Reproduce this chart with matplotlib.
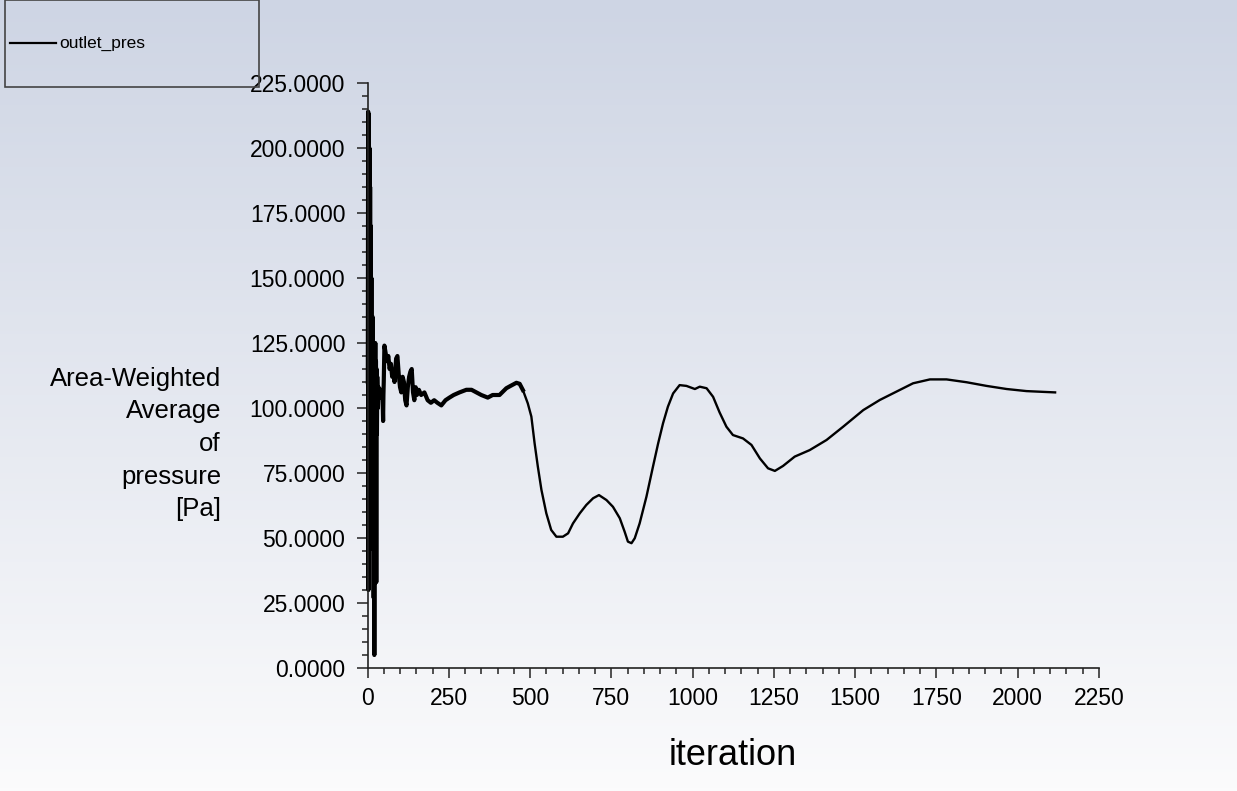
import numpy as np
import matplotlib
matplotlib.use("Agg")
import matplotlib.pyplot as plt
from matplotlib.ticker import MultipleLocator, FormatStrFormatter
from matplotlib.patches import Rectangle
from matplotlib.lines import Line2D

plt.rcParams['font.family'] = ['Liberation Sans', 'DejaVu Sans']

# ---- data ----
series_name = "outlet_pres"
iteration = [1, 2, 3, 4, 5, 6, 7, 8, 9, 10, 11, 12, 13, 14, 15, 16, 17, 18, 19, 20,
             21, 22, 23, 24, 25, 26, 27, 28, 29, 30, 32, 34, 36, 38, 40, 42, 44, 46, 48, 49,
             50, 52, 56, 60, 64, 68, 72, 76, 80, 83, 88, 92, 96, 100, 104, 108, 112, 116, 120, 124,
             128, 132, 136, 140, 144, 148, 152, 158, 165, 175, 185, 195, 205, 215, 227, 240, 252, 265, 283, 304,
             320, 335, 350, 370, 385, 406, 427, 440, 458, 468, 478, 493, 504, 514, 524, 535, 550, 565, 581, 601,
             617, 632, 653, 673, 694, 712, 735, 755, 776, 791, 801, 812, 822, 837, 858, 878, 894, 909, 924, 940,
             960, 981, 1007, 1022, 1043, 1063, 1083, 1104, 1124, 1155, 1181, 1207, 1232, 1253, 1278, 1314, 1360, 1412, 1463, 1525,
             1576, 1627, 1678, 1730, 1781, 1843, 1904, 1966, 2027, 2079, 2115]
pressure = [110, 214, 30, 213, 50, 200, 60, 185, 70, 170, 80, 150, 46, 127, 60, 135, 70, 120, 27, 118,
            5, 110, 85, 125, 40, 118, 33, 115, 90, 112, 100, 108, 104, 106, 104, 107, 105, 106, 95, 105,
            110, 124, 121, 118, 120, 115, 117, 112, 114, 110, 119, 120, 113, 108, 106, 112, 110, 103, 101, 108,
            112, 114, 115, 106, 103, 108, 105, 107, 105, 106, 103, 102, 103, 102, 101, 103, 104, 105, 106, 107,
            107, 106, 105, 104, 105, 105, 107.6, 108.5, 109.7, 109.3, 106.9, 101.8, 96.7, 86.4, 77.4, 68.5, 59.5, 53.1, 50.5, 50.5,
            51.8, 55.6, 59.5, 62.7, 65.3, 66.5, 64.6, 62.0, 57.6, 52.4, 48.6, 48.0, 49.9, 55.6, 65.9, 77.4, 86.4, 94.1, 100.5, 105.6,
            108.8, 108.5, 107.3, 108.2, 107.6, 104.3, 98.3, 92.8, 89.6, 88.3, 85.8, 80.6, 76.8, 75.8, 77.7, 81.3, 83.8, 87.7, 92.8, 99.2,
            103.1, 106.3, 109.5, 111.0, 111.0, 109.9, 108.5, 107.3, 106.5, 106.2, 106.0]
x_limits = (0, 2250)
y_limits = (0, 225)
y_label_text = "Area-Weighted\nAverage\nof\npressure\n[Pa]"
x_label_text = "iteration"

W, H = 1237, 791
fig = plt.figure(figsize=(W / 100, H / 100), dpi=100)

# background gradient
bg = fig.add_axes([0, 0, 1, 1], zorder=-10)
top_c = np.array([206, 213, 228]) / 255.0
bot_c = np.array([251, 251, 252]) / 255.0
t = np.linspace(0, 1, 256)[:, None]
grad = top_c[None, :] * (1 - t) + bot_c[None, :] * t
bg.imshow(grad[:, None, :], aspect='auto', extent=[0, 1, 0, 1])
bg.axis('off')

left, right = 367.5 / W, 1099 / W
bottom, top = 1 - 668 / H, 1 - 83 / H
ax = fig.add_axes([left, bottom, right - left, top - bottom])
ax.set_facecolor('none')

x = np.array(iteration)
y = np.array(pressure)
mask = x <= 480
ax.plot(x[mask], y[mask], color='black', lw=3.0, solid_joinstyle='round', clip_on=False)
ax.plot(x[x >= 468], y[x >= 468], color='black', lw=1.7, solid_joinstyle='round', clip_on=False)

ax.set_xlim(*x_limits)
ax.set_ylim(*y_limits)
for s in ['top', 'right']:
    ax.spines[s].set_visible(False)
for s in ['left', 'bottom']:
    ax.spines[s].set_linewidth(1.2)
    ax.spines[s].set_color('#222222')

ax.xaxis.set_major_locator(MultipleLocator(250))
ax.xaxis.set_minor_locator(MultipleLocator(50))
ax.yaxis.set_major_locator(MultipleLocator(25))
ax.yaxis.set_minor_locator(MultipleLocator(5))
ax.yaxis.set_major_formatter(FormatStrFormatter('%.4f'))

ax.tick_params(axis='y', which='major', direction='out', length=8, width=1.1, pad=8,
               labelsize=16.5, colors='#222222', labelcolor='black')
ax.tick_params(axis='y', which='minor', direction='out', length=4.5, width=1.1, colors='#222222')
ax.tick_params(axis='x', which='major', direction='out', length=7, width=1.1, pad=7,
               labelsize=16.5, colors='#222222', labelcolor='black')
ax.tick_params(axis='x', which='minor', direction='out', length=4, width=1.1, colors='#222222')

fig.text(733 / W, 1 - 765 / H, x_label_text, fontsize=26, ha='center', va='baseline')
fig.text(221 / W, 1 - 444 / H, y_label_text, fontsize=18.5, ha='right', va='center',
         multialignment='right', linespacing=1.46)

# legend box
rect = Rectangle((5 / W, 1 - 87 / H), 254 / W, 87 / H, transform=fig.transFigure,
                 facecolor='none', edgecolor='#444444', lw=1.2, zorder=20)
fig.add_artist(rect)
fig.add_artist(Line2D([10 / W, 56 / W], [1 - 43 / H, 1 - 43 / H], transform=fig.transFigure,
                      color='black', lw=1.6, zorder=20))
fig.text(59 / W, 1 - 43 / H, series_name, fontsize=12.5, ha='left', va='center', zorder=20)

fig.savefig('out.png', dpi=100)
